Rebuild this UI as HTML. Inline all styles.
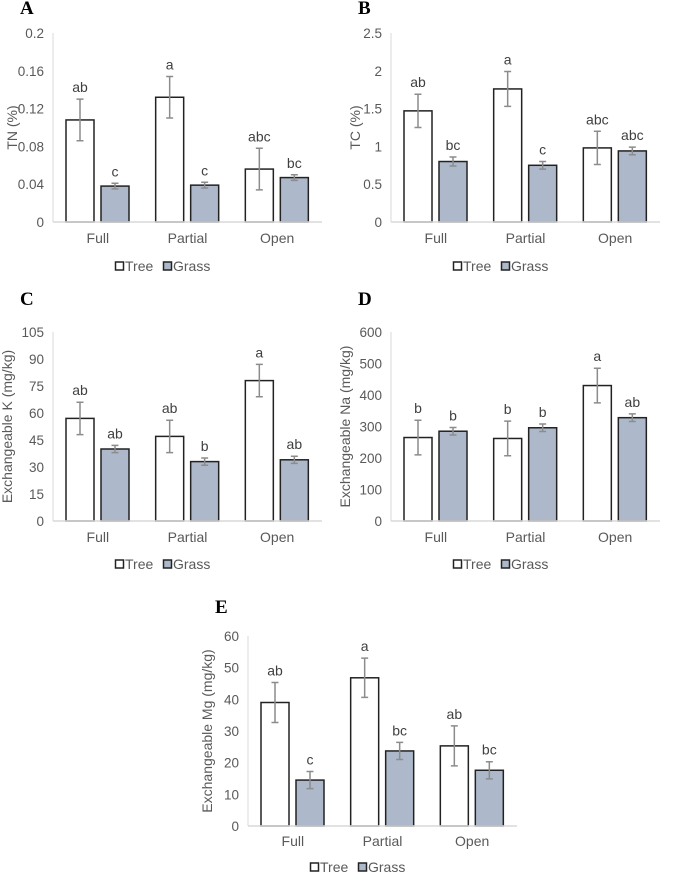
<!DOCTYPE html>
<html><head><meta charset="utf-8"><style>
body{margin:0;background:#fff}
svg{display:block;font-family:"Liberation Sans",sans-serif}
</style></head><body>
<svg id="c" width="685" height="873" viewBox="0 0 685 873" xmlns="http://www.w3.org/2000/svg"></svg>
<script>
const categories = ["Full","Partial","Open"];
const tnTree = [0.108,0.132,0.056], tnTreeErr = [0.022,0.022,0.022];
const tnGrass = [0.038,0.039,0.047], tnGrassErr = [0.003,0.003,0.003];
const tnTreeLetters = ["ab","a","abc"], tnGrassLetters = ["c","c","bc"];
const tnTicks = ["0","0.04","0.08","0.12","0.16","0.2"];
const tcTree = [1.47,1.76,0.98], tcTreeErr = [0.22,0.23,0.22];
const tcGrass = [0.80,0.75,0.94], tcGrassErr = [0.06,0.05,0.05];
const tcTreeLetters = ["ab","a","abc"], tcGrassLetters = ["bc","c","abc"];
const tcTicks = ["0","0.5","1","1.5","2","2.5"];
const kTree = [57,47,78], kTreeErr = [9,9,9];
const kGrass = [40,33,34], kGrassErr = [2,2,2];
const kTreeLetters = ["ab","ab","a"], kGrassLetters = ["ab","b","ab"];
const kTicks = ["0","15","30","45","60","75","90","105"];
const naTree = [265,262,430], naTreeErr = [55,55,55];
const naGrass = [285,296,328], naGrassErr = [12,12,12];
const naTreeLetters = ["b","b","a"], naGrassLetters = ["b","b","ab"];
const naTicks = ["0","100","200","300","400","500","600"];
const mgTree = [39,46.8,25.3], mgTreeErr = [6.3,6.2,6.3];
const mgGrass = [14.5,23.7,17.6], mgGrassErr = [2.7,2.7,2.7];
const mgTreeLetters = ["ab","a","ab"], mgGrassLetters = ["c","bc","bc"];
const mgTicks = ["0","10","20","30","40","50","60"];

const svg = document.getElementById('c');
const NS = "http://www.w3.org/2000/svg";
function mk(tag, attrs, parent, text){
  const e = document.createElementNS(NS, tag);
  for (const k in attrs) e.setAttribute(k, attrs[k]);
  if (text !== undefined) e.textContent = text;
  (parent||svg).appendChild(e);
  return e;
}
function panel(p){
  const g = mk('g', {transform:`translate(${p.dx},0)`});
  
  
  const axL = 53, axR = 322, top = p.top, bot = p.bot;
  const max = parseFloat(p.ticks[p.ticks.length-1]);
  const y = v => bot - v / max * (bot - top);
  const gw = (axR - axL) / 3;
  const t = mk('text', {x:20, y:p.titleY, 'font-family':'"Liberation Serif",serif', 'font-weight':'bold', 'font-size':19, fill:'#000'}, g, p.key);
  
  
  p.ticks.forEach(tk => {
    const lt = mk('text', {x:44, y:y(parseFloat(tk))+5, 'text-anchor':'end', 'font-size':13.5, fill:'#595959'}, g, tk);
    
    
  });
  const yt = mk('text', {transform:`translate(${p.ytx},${(top+bot)/2}) rotate(-90)`, 'text-anchor':'middle', 'font-size':14, fill:'#595959'}, g, p.ytitle);
  
  
  const ya = mk('line', {x1:axL, x2:axL, y1:top, y2:bot, stroke:'#d9d9d9', 'stroke-width':1}, g);
  
  
  const series = [
    {vals:p.tree, err:p.treeErr, let:p.treeL, fill:'#ffffff', off:13, name:'tree'},
    {vals:p.grass, err:p.grassErr, let:p.grassL, fill:'#adb9ca', off:48, name:'grass'}
  ];
  categories.forEach((c,i) => {
    series.forEach(s => {
      const x0 = axL + i*gw + s.off, w = 28;
      const r = mk('rect', {x:x0, y:y(s.vals[i]), width:w, height:bot - y(s.vals[i]), fill:s.fill, stroke:'#222', 'stroke-width':1.5}, g);
      
      
      const cx = x0 + w/2, hi = y(s.vals[i] + s.err[i]), lo = y(s.vals[i] - s.err[i]);
      const eb = mk('path', {d:`M${cx},${hi}V${lo}M${cx-3.5},${hi}H${cx+3.5}M${cx-3.5},${lo}H${cx+3.5}`, stroke:'#8c8c8c', 'stroke-width':1.5, fill:'none'}, g);
      
      
      const lt = mk('text', {x:cx, y:hi-7, 'text-anchor':'middle', 'font-size':14, fill:'#404040'}, g, s.let[i]);
      
      
    });
    const cl = mk('text', {x:axL + (i+0.5)*gw, y:p.catY, 'text-anchor':'middle', 'font-size':14, fill:'#595959'}, g, c);
    
    
  });
  const xa = mk('line', {x1:axL, x2:axR, y1:bot, y2:bot, stroke:'#d9d9d9', 'stroke-width':1.5}, g);
  
  
  const lg = mk('g', {}, g);
  
  
  const ly = p.legY;
  mk('rect', {x:115.5, y:ly-9, width:8, height:8, fill:'#fff', stroke:'#222', 'stroke-width':1.5}, lg);
  const l1 = mk('text', {x:125, y:ly, 'font-size':14, fill:'#595959'}, lg, 'Tree');
  
  
  mk('rect', {x:163.5, y:ly-9, width:8, height:8, fill:'#adb9ca', stroke:'#222', 'stroke-width':1.5}, lg);
  const l2 = mk('text', {x:173, y:ly, 'font-size':14, fill:'#595959'}, lg, 'Grass');
  
  
}
const rowA = {top:33, bot:222, titleY:14, catY:243, legY:271};
const rowC = {top:332, bot:521, titleY:305, catY:542, legY:569};
const rowE = {top:636, bot:826, titleY:613, catY:846, legY:872};
panel(Object.assign({key:'A', dx:0, ticks:tnTicks, ytitle:'TN (%)', ytx:17, tree:tnTree, treeErr:tnTreeErr, grass:tnGrass, grassErr:tnGrassErr, treeL:tnTreeLetters, grassL:tnGrassLetters}, rowA));
panel(Object.assign({key:'B', dx:338, ticks:tcTicks, ytitle:'TC (%)', ytx:22, tree:tcTree, treeErr:tcTreeErr, grass:tcGrass, grassErr:tcGrassErr, treeL:tcTreeLetters, grassL:tcGrassLetters}, rowA));
panel(Object.assign({key:'C', dx:0, ticks:kTicks, ytitle:'Exchangeable K (mg/kg)', ytx:12, tree:kTree, treeErr:kTreeErr, grass:kGrass, grassErr:kGrassErr, treeL:kTreeLetters, grassL:kGrassLetters}, rowC));
panel(Object.assign({key:'D', dx:338, ticks:naTicks, ytitle:'Exchangeable Na (mg/kg)', ytx:12, tree:naTree, treeErr:naTreeErr, grass:naGrass, grassErr:naGrassErr, treeL:naTreeLetters, grassL:naGrassLetters}, rowC));
panel(Object.assign({key:'E', dx:195, ticks:mgTicks, ytitle:'Exchangeable Mg (mg/kg)', ytx:17, tree:mgTree, treeErr:mgTreeErr, grass:mgGrass, grassErr:mgGrassErr, treeL:mgTreeLetters, grassL:mgGrassLetters}, rowE));
</script>
</body></html>
